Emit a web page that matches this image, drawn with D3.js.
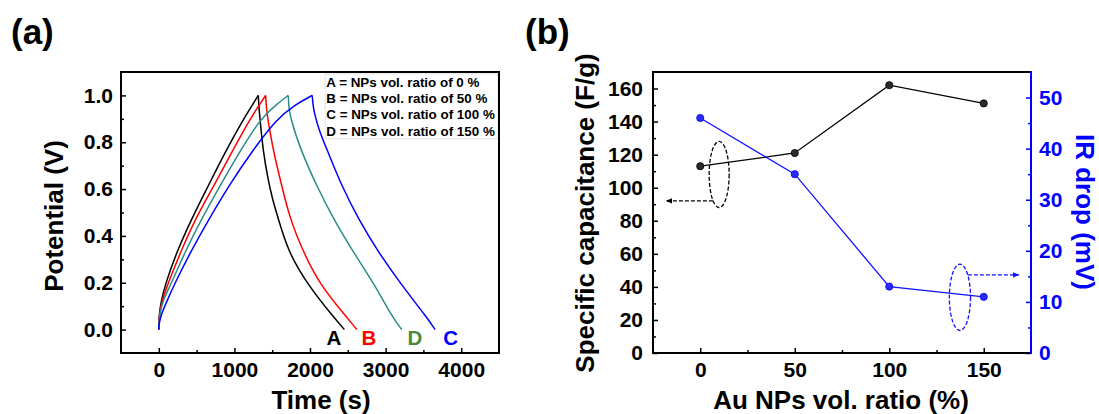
<!DOCTYPE html>
<html><head><meta charset="utf-8">
<script src="https://cdn.jsdelivr.net/npm/d3@7"></script>
<style>
body{margin:0;background:#fff;}
svg text{font-family:"Liberation Sans",Arial,sans-serif;font-weight:bold;}
</style></head>
<body><svg id="c" width="1099" height="414"></svg>
<script>
// ---------- Panel (a) data: galvanostatic charge / discharge ----------
const timeTicks = [0, 1000, 2000, 3000, 4000];
const potentialTicks = [0, 0.2, 0.4, 0.6, 0.8, 1.0];
// charge branches (time s, potential V)
const chargeA = [[0,0],[3,0.06],[30,0.12],[83,0.191],[237,0.332],[436,0.474],[656,0.615],[876,0.757],[1118,0.898],[1230,0.955],[1316,1.0]];
const chargeB = [[0,0],[4,0.06],[40,0.12],[114,0.191],[290,0.332],[484,0.474],[731,0.615],[964,0.757],[1206,0.898],[1330,0.96],[1413,1.0]];
const chargeC = [[0,0],[3,0.027],[38,0.069],[104,0.119],[201,0.19],[422,0.333],[669,0.475],[934,0.618],[1229,0.76],[1560,0.9],[1800,0.96],[2029,1.0]];
const chargeD = [[0,0],[5,0.06],[60,0.13],[158,0.191],[347,0.332],[568,0.474],[810,0.615],[1065,0.757],[1338,0.898],[1550,0.96],[1712,1.0]];
// discharge branches
const dischargeA = [[1316,1.0],[1322,0.96],[1338,0.9],[1382,0.757],[1440,0.65],[1500,0.56],[1580,0.474],[1712,0.332],[1970,0.191],[2320,0.05],[2455,0]];
const dischargeB = [[1413,1.0],[1420,0.96],[1440,0.9],[1480,0.83],[1520,0.757],[1625,0.615],[1734,0.474],[1910,0.332],[2131,0.191],[2492,0.05],[2620,0]];
const dischargeC = [[2029,1.0],[2040,0.96],[2056,0.926],[2120,0.85],[2240,0.757],[2417,0.615],[2637,0.474],[2901,0.332],[3210,0.191],[3550,0.05],[3655,0]];
const dischargeD = [[1712,1.0],[1720,0.95],[1744,0.898],[1889,0.757],[2087,0.615],[2307,0.474],[2571,0.332],[2857,0.191],[3095,0.05],[3215,0]];
const curveNames = ["A","B","D","C"];
const curveLabelX = [2317, 2780, 3386, 3862];
const legendLines = ["A = NPs vol. ratio of 0 %","B = NPs vol. ratio of 50 %","C = NPs vol. ratio of 100 %","D = NPs vol. ratio of 150 %"];

// ---------- Panel (b) data ----------
const ratios = [0, 50, 100, 150];
const capacitance = [113, 121, 162, 151];
const irDrop = [46, 35, 13, 11];
const capTicks = [0,20,40,60,80,100,120,140,160];
const irTicks = [0,10,20,30,40,50];

const svg = d3.select("#c");
const FS_TICK = 21, FS_TITLE = 26;

// ================= Panel (a) =================
const xa = d3.scaleLinear().domain([-500,4500]).range([121,499]);
const ya = d3.scaleLinear().domain([-0.1,1.1]).range([353,72]);
const ga = svg.append("g");

const line = d3.line().x(d=>xa(d[0])).y(d=>ya(d[1])).curve(d3.curveBasis);
const curves = [
  {charge:chargeA, discharge:dischargeA, color:"#000000"},
  {charge:chargeB, discharge:dischargeB, color:"#ff0000"},
  {charge:chargeD, discharge:dischargeD, color:"#2a8c8a"},
  {charge:chargeC, discharge:dischargeC, color:"#0000ff"}
];
curves.forEach(c=>{
  ["charge","discharge"].forEach(k=>{
    ga.append("path").attr("d",line(c[k])).attr("fill","none").attr("stroke",c.color)
      .attr("stroke-width",1.5).attr("stroke-linejoin","round");
  });
});

// legend box
ga.append("rect").attr("x",xa(2200)).attr("y",ya(1.092)).attr("width",xa(4500)-xa(2200)-1).attr("height",ya(0.815)-ya(1.092))
  .attr("fill","#fff").attr("stroke","#e4e4e4").attr("stroke-width",1);
ga.selectAll("text.lg").data(legendLines).join("text").attr("class","lg")
  .attr("x",xa(2215)).attr("y",(d,i)=>ya(1.037)+i*16.3).attr("font-size",13.4).attr("fill","#000").text(d=>d);

// curve letters
const letterColors = ["#000000","#ff0000","#4a8a3a","#0000ff"];
ga.selectAll("text.lt").data(curveNames).join("text").attr("class","lt")
  .attr("x",(d,i)=>xa(curveLabelX[i])).attr("y",ya(-0.066)).attr("text-anchor","middle")
  .attr("font-size",20.5).attr("fill",(d,i)=>letterColors[i]).text(d=>d);

// axes (ticks pointing inward)
ga.append("g").attr("transform","translate(0,353)")
  .call(d3.axisBottom(xa).tickValues(timeTicks).tickSize(-5).tickPadding(9).tickFormat(d3.format("d")));
ga.append("g").attr("transform","translate(0,353)")
  .call(d3.axisBottom(xa).tickValues([500,1500,2500,3500]).tickSize(-3).tickFormat(""));
ga.append("g").attr("transform","translate(121,0)")
  .call(d3.axisLeft(ya).tickValues(potentialTicks).tickSize(-5).tickPadding(8).tickFormat(d3.format(".1f")));
ga.append("g").attr("transform","translate(121,0)")
  .call(d3.axisLeft(ya).tickValues([0.1,0.3,0.5,0.7,0.9])).call(g=>g.selectAll(".tick text").remove())
  .call(g=>g.selectAll(".tick line").attr("x2",3));
ga.selectAll(".domain").remove();
ga.selectAll(".tick line").attr("stroke","#000").attr("stroke-width",1.5);
ga.selectAll(".tick text").attr("font-size",FS_TICK).attr("fill","#000");
ga.append("rect").attr("x",121).attr("y",72).attr("width",378).attr("height",281)
  .attr("fill","none").attr("stroke","#000").attr("stroke-width",2);

ga.append("text").attr("x",321).attr("y",409).attr("text-anchor","middle").attr("font-size",FS_TITLE).text("Time (s)");
ga.append("text").attr("transform","translate(63,216) rotate(-90)").attr("text-anchor","middle").attr("font-size",FS_TITLE).text("Potential (V)");
svg.append("text").attr("x",11).attr("y",44).attr("font-size",35).text("(a)");

// ================= Panel (b) =================
const xb = d3.scaleLinear().domain([-25,175]).range([653,1031]);
const yl = d3.scaleLinear().domain([0,170]).range([353,72]);
const yr = d3.scaleLinear().domain([0,55]).range([353,72]);
const gb = svg.append("g");

const capPts = ratios.map((r,i)=>[r,capacitance[i]]);
const irPts = ratios.map((r,i)=>[r,irDrop[i]]);
gb.append("path").attr("d",d3.line().x(d=>xb(d[0])).y(d=>yl(d[1]))(capPts))
  .attr("fill","none").attr("stroke","#000").attr("stroke-width",1.3);
gb.append("path").attr("d",d3.line().x(d=>xb(d[0])).y(d=>yr(d[1]))(irPts))
  .attr("fill","none").attr("stroke","#1010ff").attr("stroke-width",1.3);
gb.selectAll("circle.cp").data(capPts).join("circle").attr("class","cp")
  .attr("cx",d=>xb(d[0])).attr("cy",d=>yl(d[1])).attr("r",3.6).attr("fill","#2a2a2a").attr("stroke","#000").attr("stroke-width",0.8);
gb.selectAll("circle.ip").data(irPts).join("circle").attr("class","ip")
  .attr("cx",d=>xb(d[0])).attr("cy",d=>yr(d[1])).attr("r",3.6).attr("fill","#2a2aff").attr("stroke","#0000dd").attr("stroke-width",0.8);

// annotations (data units)
const leftEllipse = {cx:10, cy:108, rx:5.3, ry:20};
const leftArrow = {x1:6.7, x2:-18, y:92};
const rightEllipse = {cx:137.4, cy:10.9, rx:5.6, ry:6.5};
const rightArrow = {x1:141.6, x2:168.6, y:15.3};
const defs = svg.append("defs");
function mk(id,color){
  defs.append("marker").attr("id",id).attr("viewBox","0 0 10 10").attr("refX",9).attr("refY",5)
    .attr("markerWidth",5).attr("markerHeight",5).attr("orient","auto")
    .append("path").attr("d","M0,1 L10,5 L0,9 Z").attr("fill",color);
}
mk("ab","#000"); mk("abl","#1010ff");
gb.append("ellipse").attr("cx",xb(leftEllipse.cx)).attr("cy",yl(leftEllipse.cy))
  .attr("rx",xb(leftEllipse.rx)-xb(0)).attr("ry",yl(0)-yl(leftEllipse.ry))
  .attr("fill","none").attr("stroke","#000").attr("stroke-width",1.3).attr("stroke-dasharray","4,2");
gb.append("line").attr("x1",xb(leftArrow.x1)).attr("x2",xb(leftArrow.x2)).attr("y1",yl(leftArrow.y)).attr("y2",yl(leftArrow.y))
  .attr("stroke","#000").attr("stroke-width",1.3).attr("stroke-dasharray","4,2").attr("marker-end","url(#ab)");
gb.append("ellipse").attr("cx",xb(rightEllipse.cx)).attr("cy",yr(rightEllipse.cy))
  .attr("rx",xb(rightEllipse.rx)-xb(0)).attr("ry",yr(0)-yr(rightEllipse.ry))
  .attr("fill","none").attr("stroke","#1010ff").attr("stroke-width",1.3).attr("stroke-dasharray","4,2");
gb.append("line").attr("x1",xb(rightArrow.x1)).attr("x2",xb(rightArrow.x2)).attr("y1",yr(rightArrow.y)).attr("y2",yr(rightArrow.y))
  .attr("stroke","#1010ff").attr("stroke-width",1.3).attr("stroke-dasharray","4,2").attr("marker-end","url(#abl)");

// axes
gb.append("g").attr("class","bx").attr("transform","translate(0,353)")
  .call(d3.axisBottom(xb).tickValues(ratios).tickSize(-5).tickPadding(9).tickFormat(d3.format("d")));
gb.append("g").attr("class","bx").attr("transform","translate(0,353)")
  .call(d3.axisBottom(xb).tickValues([25,75,125]).tickSize(-3).tickFormat(""));
gb.append("g").attr("class","bl").attr("transform","translate(653,0)")
  .call(d3.axisLeft(yl).tickValues(capTicks).tickSize(-5).tickPadding(10).tickFormat(d3.format("d")));
gb.append("g").attr("class","bl").attr("transform","translate(653,0)")
  .call(d3.axisLeft(yl).tickValues(d3.range(10,170,20)).tickSize(-3).tickFormat(""));
gb.append("g").attr("class","br").attr("transform","translate(1031,0)")
  .call(d3.axisRight(yr).tickValues(irTicks).tickSize(-5).tickPadding(8).tickFormat(d3.format("d")));
gb.append("g").attr("class","br").attr("transform","translate(1031,0)")
  .call(d3.axisRight(yr).tickValues(d3.range(5,55,10)).tickSize(-3).tickFormat(""));
gb.selectAll(".domain").remove();
gb.selectAll(".bx .tick line, .bl .tick line").attr("stroke","#000").attr("stroke-width",1.5);
gb.selectAll(".br .tick line").attr("stroke","#0000ff").attr("stroke-width",1.5);
gb.selectAll(".tick text").attr("font-size",FS_TICK).attr("fill","#000");
gb.selectAll(".br .tick text").attr("fill","#0000ff");

gb.append("path").attr("d",`M1031,72 L653,72 L653,353 L1031,353`).attr("fill","none").attr("stroke","#000").attr("stroke-width",2);
gb.append("line").attr("x1",1031).attr("x2",1031).attr("y1",71).attr("y2",354).attr("stroke","#0000ff").attr("stroke-width",2);

gb.append("text").attr("x",841).attr("y",409).attr("text-anchor","middle").attr("font-size",FS_TITLE).text("Au NPs vol. ratio (%)");
gb.append("text").attr("transform","translate(594,213) rotate(-90)").attr("text-anchor","middle").attr("font-size",FS_TITLE).text("Specific capacitance (F/g)");
gb.append("text").attr("transform","translate(1076,212) rotate(90)").attr("text-anchor","middle").attr("font-size",FS_TITLE).attr("fill","#0000ff").text("IR drop (mV)");
svg.append("text").attr("x",525).attr("y",44).attr("font-size",35).text("(b)");
</script></body></html>
